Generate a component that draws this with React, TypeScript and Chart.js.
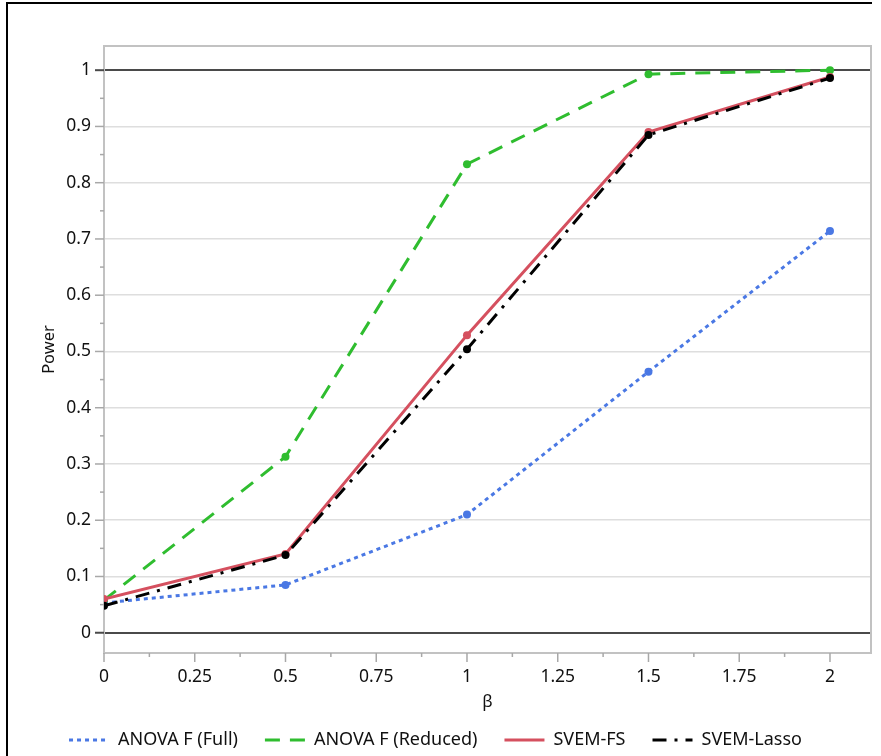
import React, { useEffect, useRef } from 'react';
import { Chart, registerables } from 'chart.js';

Chart.register(...registerables);

// ---- Data ----
const betaValues = [0, 0.5, 1, 1.5, 2];
const anovaFull = [0.053, 0.085, 0.21, 0.464, 0.714];
const anovaReduced = [0.058, 0.313, 0.833, 0.993, 1.0];
const svemFS = [0.06, 0.14, 0.529, 0.89, 0.988];
const svemLasso = [0.048, 0.138, 0.504, 0.885, 0.986];
const seriesLabels = ['ANOVA F (Full)', 'ANOVA F (Reduced)', 'SVEM-FS', 'SVEM-Lasso'];
const seriesColors = ['#4a78e4', '#2fbd2f', '#d5505f', '#000000'];
const seriesDashes = [[4, 4], [15, 10], [], [14, 8, 3, 8]];
const xTickValues = [0, 0.25, 0.5, 0.75, 1, 1.25, 1.5, 1.75, 2];
const yTickValues = [0, 0.1, 0.2, 0.3, 0.4, 0.5, 0.6, 0.7, 0.8, 0.9, 1];
const xAxisTitle = 'β';
const yAxisTitle = 'Power';

const FONT = "'Noto Sans', 'Open Sans', sans-serif";
const TEXT = '#111111';

const mids = (arr: number[]) => arr.slice(0, -1).map((v, i) => (v + arr[i + 1]) / 2);

const ticksPlugin = {
  id: 'customTicks',
  beforeDatasetsDraw(chart: any) {
    const { ctx, chartArea } = chart;
    const xs = chart.scales.x;
    const ys = chart.scales.y;
    ctx.save();
    ctx.strokeStyle = '#c2c2c2';
    ctx.lineWidth = 2;
    ctx.strokeRect(chartArea.left, chartArea.top, chartArea.right - chartArea.left, chartArea.bottom - chartArea.top);
    const drawY = (v: number, len: number) => {
      const y = ys.getPixelForValue(v);
      const dark = v === 0 || v === 1;
      ctx.strokeStyle = dark ? '#4a4a4a' : '#a8a8a8';
      ctx.lineWidth = dark ? 2 : 1.5;
      ctx.beginPath();
      ctx.moveTo(chartArea.left - len, y);
      ctx.lineTo(chartArea.left, y);
      ctx.stroke();
    };
    yTickValues.forEach((v) => drawY(v, 9));
    mids(yTickValues).forEach((v) => drawY(v, 4));
    const drawX = (v: number, len: number) => {
      const x = xs.getPixelForValue(v);
      ctx.strokeStyle = '#a8a8a8';
      ctx.lineWidth = 1.5;
      ctx.beginPath();
      ctx.moveTo(x, chartArea.bottom);
      ctx.lineTo(x, chartArea.bottom + len);
      ctx.stroke();
    };
    xTickValues.forEach((v) => drawX(v, 9));
    mids(xTickValues).forEach((v) => drawX(v, 4));
    ctx.restore();
  },
};

export default function App() {
  const canvasRef = useRef<HTMLCanvasElement>(null);

  useEffect(() => {
    if (!canvasRef.current) return;
    const mk = (vals: number[]) => betaValues.map((x, i) => ({ x, y: vals[i] }));
    const seriesValues = [anovaFull, anovaReduced, svemFS, svemLasso];
    const datasets = seriesValues.map((vals, i) => ({
      label: seriesLabels[i],
      data: mk(vals),
      borderColor: seriesColors[i],
      backgroundColor: seriesColors[i],
      pointBackgroundColor: seriesColors[i],
      borderDash: seriesDashes[i],
      borderWidth: 3,
      pointRadius: 4,
      pointBorderWidth: 0,
      pointHoverRadius: 4,
      fill: false,
      tension: 0,
      order: 3 - i,
    }));
    const chart = new Chart(canvasRef.current, {
      type: 'line',
      data: { datasets },
      options: {
        animation: false,
        responsive: false,
        maintainAspectRatio: false,
        layout: { padding: { top: 46, right: 10, left: 0, bottom: -3 } },
        plugins: {
          tooltip: { enabled: false },
          legend: {
            position: 'bottom',
            labels: {
              usePointStyle: true,
              pointStyle: 'line',
              pointStyleWidth: 40,
              boxWidth: 40,
              padding: 27,
              color: TEXT,
              font: { family: FONT, size: 18 },
              generateLabels: (ch: any) =>
                ch.data.datasets.map((ds: any, i: number) => ({
                  text: ds.label,
                  datasetIndex: i,
                  fillStyle: ds.borderColor,
                  strokeStyle: ds.borderColor,
                  lineWidth: 3,
                  lineDash: ds.borderDash,
                  lineCap: 'butt',
                  pointStyle: 'line',
                  hidden: false,
                  fontColor: TEXT,
                })),
            },
          },
        },
        scales: {
          x: {
            type: 'linear',
            min: 0,
            max: 2.113,
            afterBuildTicks: (s: any) => { s.ticks = xTickValues.map((value) => ({ value })); },
            afterFit: (s: any) => { s.height = 51; },
            ticks: { color: TEXT, font: { family: FONT, size: 17.5 }, padding: 13.5, maxRotation: 0, autoSkip: false, callback: (v: any) => String(v) },
            grid: { display: false, drawTicks: false },
            border: { display: false },
            title: { display: true, text: xAxisTitle, color: TEXT, font: { family: FONT, size: 17 }, padding: { top: 0, bottom: -8 } },
          },
          y: {
            type: 'linear',
            min: -0.036,
            max: 1.043,
            afterBuildTicks: (s: any) => { s.ticks = yTickValues.map((value) => ({ value })); },
            afterFit: (s: any) => { s.width = 104; },
            ticks: { color: TEXT, font: { family: FONT, size: 17.5 }, padding: 13, autoSkip: false, callback: (v: any) => String(v) },
            grid: {
              drawTicks: false,
              color: (c: any) => (c.tick && (c.tick.value === 0 || c.tick.value === 1) ? '#4a4a4a' : '#dedede'),
              lineWidth: (c: any) => (c.tick && (c.tick.value === 0 || c.tick.value === 1) ? 2 : 1.5),
            },
            border: { display: false },
            title: { display: true, text: yAxisTitle, color: TEXT, font: { family: FONT, size: 16.5 }, padding: { top: 39, bottom: 0 } },
          },
        },
      },
      plugins: [ticksPlugin],
    } as any);
    return () => chart.destroy();
  }, []);

  return (
    <div style={{ position: 'absolute', left: 0, top: 0, width: 881, height: 756, overflow: 'hidden', background: '#fff' }}>
      <div style={{ position: 'absolute', left: 6, top: 2, width: 864, height: 770, borderTop: '2px solid #000', borderLeft: '2px solid #000' }} />
      <canvas ref={canvasRef} width={881} height={756} style={{ position: 'absolute', left: 0, top: 0, width: 881, height: 756 }} />
    </div>
  );
}
